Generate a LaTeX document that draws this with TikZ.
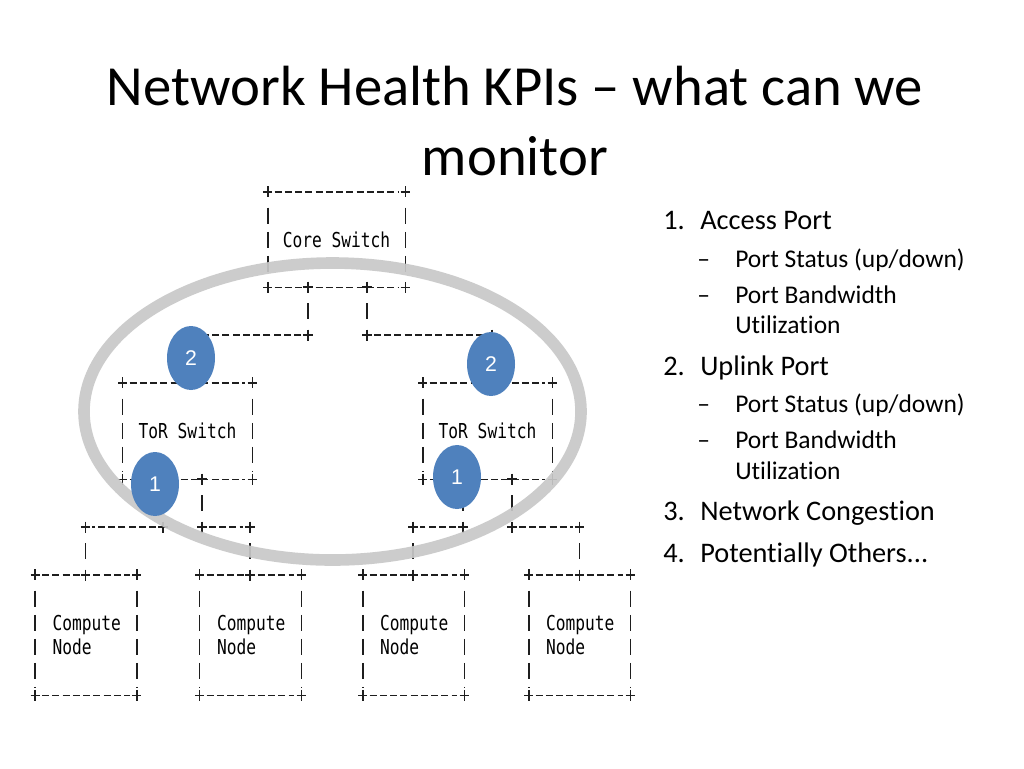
\documentclass[tikz,border=0pt]{standalone}
\usepackage{fontspec}
\setmainfont[Ligatures=NoCommon]{Carlito}
\newfontfamily\asciifont[FakeStretch=0.79]{DejaVu Sans Mono}
\newfontfamily\badgefont{Liberation Sans}
\usetikzlibrary{shapes.geometric}

\definecolor{badgeblue}{RGB}{79,129,189}
\definecolor{ringgray}{RGB}{200,200,200}
\definecolor{asciigray}{RGB}{30,30,30}

\def\pxu{0.7058pt}
\def\otherstext{Potentially Others...}
\def\mainlist{{229/1./Access Port}, {375/2./Uplink Port}, {520/3./Network Congestion}, {562/4./\otherstext}}
\def\sublist{{267/{Port Status (up/down)}}, {303/Port Bandwidth}, {412/{Port Status (up/down)}}, {448/Port Bandwidth}}
\def\pluslist{{(308,335)}, {(367,335)}, {(190,335)}, {(492,335)}, {(190,383)}, {(492,383)}, {(308,287)}, {(367,287)}, {(163,479)}, {(202,479)}, {(463,479)}, {(512,479)}, {(85.5,527)}, {(163,527)}, {(202,527)}, {(250,527)}, {(413,527)}, {(463,527)}, {(512,527)}, {(579.5,527)}, {(85.5,575)}, {(250,575)}, {(413,575)}, {(579.5,575)}}

\tikzstyle{hline}=[draw=asciigray, line width=1.1pt, dash pattern=on 4.94pt off 2.3pt, shorten <=4.8pt, shorten >=4.8pt]
\tikzstyle{vline}=[draw=asciigray, line width=1.1pt, dash pattern=on 11.3pt off 5.65pt, dash phase=11.3pt, shorten <=5.65pt, shorten >=5.65pt]
\tikzstyle{box}=[inner sep=0pt, text=black, font=\asciifont\fontsize{14.5}{16.9}\selectfont]
\tikzstyle{switchbox}=[box, minimum height=96*\pxu]
\tikzstyle{computebox}=[box, text width=67*\pxu, inner xsep=17*\pxu, minimum height=120*\pxu, align=left]
\tikzstyle{ring}=[ellipse, draw=ringgray, draw opacity=0.92, line width=8.2pt, minimum width=497*\pxu, minimum height=297*\pxu, inner sep=0pt]
\tikzstyle{badge}=[ellipse, fill=badgeblue, minimum width=48*\pxu, minimum height=64*\pxu, inner sep=0pt, text=white, font=\badgefont\fontsize{15}{18}\selectfont]
\tikzstyle{title}=[anchor=base, align=center, font=\fontsize{40}{49.4}\selectfont]
\tikzstyle{numtext}=[anchor=base west, inner sep=0pt, font=\fontsize{20}{24}\selectfont]
\tikzstyle{lvlone}=[anchor=base west, inner sep=0pt, font=\fontsize{20}{24}\selectfont]
\tikzstyle{lvltwo}=[anchor=base west, inner sep=0pt, font=\fontsize{18}{21.6}\selectfont]

\tikzset{plusmark/.pic={\draw[asciigray, line width=1.1pt] (-4.6,0) -- (4.6,0) (0,-5.5) -- (0,5.5);}}

\begin{document}
\begin{tikzpicture}[x=\pxu, y=-\pxu]
  \fill[white] (0,0) rectangle (1024,768);
  \useasboundingbox (0,0) rectangle (1024,768);

  \node[title] (title) at (515,175) {Network Health KPIs -- what can we\\monitor};

  \node[switchbox, minimum width=137*\pxu, minimum height=95*\pxu] (core) at (336.5,239.5) {Core Switch};
  \node[switchbox, minimum width=129*\pxu] (torL) at (187.5,431) {ToR Switch};
  \node[switchbox, minimum width=129*\pxu] (torR) at (487.5,431) {ToR Switch};
  \node[computebox] (cn1) at (86,635) {Compute\\Node};
  \node[computebox] (cn2) at (250.5,635) {Compute\\Node};
  \node[computebox] (cn3) at (413.5,635) {Compute\\Node};
  \node[computebox] (cn4) at (579.5,635) {Compute\\Node};

  \foreach \b in {core, torL, torR, cn1, cn2, cn3, cn4} {
    \draw[hline] (\b.north west) -- (\b.north east);
    \draw[hline] (\b.south west) -- (\b.south east);
    \draw[vline] (\b.north west) -- (\b.south west);
    \draw[vline] (\b.north east) -- (\b.south east);
    \foreach \c in {north west, north east, south west, south east}
      \pic at (\b.\c) {plusmark};
  }

  \coordinate (coreL) at (308,287);
  \coordinate (coreR) at (367,287);
  \coordinate (midL) at (308,335);
  \coordinate (midR) at (367,335);
  \coordinate (upL) at (190,335);
  \coordinate (upR) at (492,335);
  \coordinate (torLup) at (190,383);
  \coordinate (torRup) at (492,383);
  \coordinate (torLa) at (163,479);
  \coordinate (torLb) at (202,479);
  \coordinate (torRa) at (463,479);
  \coordinate (torRb) at (512,479);
  \coordinate (dnLa) at (163,527);
  \coordinate (dnLb) at (202,527);
  \coordinate (dnRa) at (463,527);
  \coordinate (dnRb) at (512,527);
  \coordinate (cn1up) at (85.5,527);
  \coordinate (cn2up) at (250,527);
  \coordinate (cn3up) at (413,527);
  \coordinate (cn4up) at (579.5,527);
  \coordinate (cn1top) at (85.5,575);
  \coordinate (cn2top) at (250,575);
  \coordinate (cn3top) at (413,575);
  \coordinate (cn4top) at (579.5,575);

  \foreach \source/\sink in {coreL/midL, coreR/midR, upL/torLup, upR/torRup, torLa/dnLa, torLb/dnLb, torRa/dnRa, torRb/dnRb, cn1up/cn1top, cn2up/cn2top, cn3up/cn3top, cn4up/cn4top} {
    \path[vline] (\source) -- (\sink);
  }
  \foreach \source/\sink in {midL/upL, midR/upR, dnLa/cn1up, dnLb/cn2up, dnRa/cn3up, dnRb/cn4up} {
    \path[hline] (\source) -- (\sink);
  }
  \foreach \pos in \pluslist {
    \pic at \pos {plusmark};
  }

  \node[ring] (ring) at (332.5,411.5) {};

  \node[badge] (uplinkL) at (191,358) {2};
  \node[badge] (uplinkR) at (491,364) {2};
  \node[badge] (accessL) at (155,484) {1};
  \node[badge] (accessR) at (457,477) {1};

  \foreach \y/\n/\t [count=\i] in \mainlist {
    \node[numtext] (num\i) at (663,\y) {\n};
    \node[lvlone] (item\i) at (700,\y) {\t};
  }
  \foreach \y/\t [count=\i] in \sublist {
    \node[lvltwo] (dash\i) at (697,\y) {--};
    \node[lvltwo] (sub\i) at (735,\y) {\t};
  }
  \foreach \y [count=\i] in {333, 479} {
    \node[lvltwo] (cont\i) at (735,\y) {Utilization};
  }
\end{tikzpicture}
\end{document}
